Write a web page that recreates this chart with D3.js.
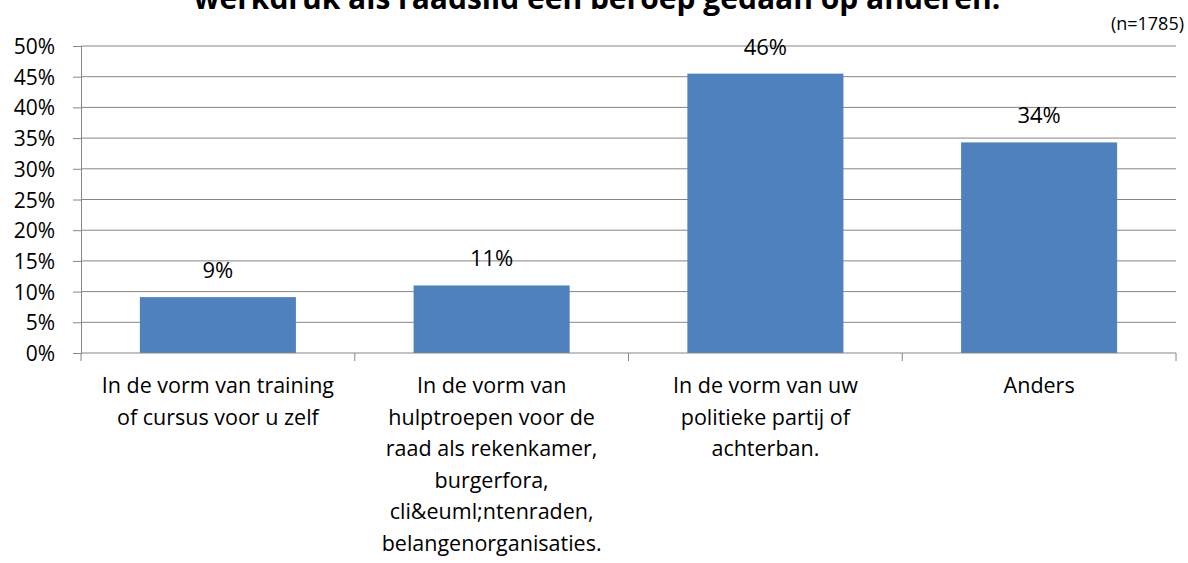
<!DOCTYPE html>
<html><head><meta charset="utf-8">
<script src="https://cdn.jsdelivr.net/npm/d3@7"></script>
<style>body{margin:0;background:#fff}svg{display:block}text{font-family:"Open Sans",sans-serif;fill:#000}</style>
</head><body>
<script>
const categories = [
  ["In de vorm van training","of cursus voor u zelf"],
  ["In de vorm van","hulptroepen voor de","raad als rekenkamer,","burgerfora,","cli&euml;ntenraden,","belangenorganisaties."],
  ["In de vorm van uw","politieke partij of","achterban."],
  ["Anders"]
];
const values = [9.1, 11.0, 45.5, 34.3];
const valueLabels = ["9%", "11%", "46%", "34%"];
const yTicks = [0,5,10,15,20,25,30,35,40,45,50];
const title = "werkdruk als raadslid een beroep gedaan op anderen.";
const note = "(n=1785)";

const W = 1188, H = 563;
const m = {left: 81, right: 12, top: 46, bottom: 210};
const FONT = "'Open Sans', sans-serif";
const svg = d3.select("body").append("svg").attr("width", W).attr("height", H);
const x = d3.scaleBand().domain(d3.range(categories.length)).range([m.left, W - m.right]).paddingInner(0.43).paddingOuter(0.215);
const xb = d3.scaleBand().domain(d3.range(categories.length)).range([m.left, W - m.right]);
const y = d3.scaleLinear().domain([0, 50]).range([H - m.bottom, m.top]);

// gridlines
svg.append("g").selectAll("line").data(yTicks.filter(d => d > 0)).join("line")
  .attr("x1", m.left).attr("x2", W - m.right)
  .attr("y1", d => y(d)).attr("y2", d => y(d))
  .attr("stroke", "#868686").attr("stroke-width", 1);

// y axis
const ya = svg.append("g").attr("transform", `translate(${m.left},0)`)
  .call(d3.axisLeft(y).tickValues(yTicks).tickFormat(d => d + "%").tickSize(8).tickPadding(18));
ya.select(".domain").attr("stroke", "#868686");
ya.selectAll(".tick line").attr("stroke", "#868686");
ya.selectAll("text").attr("font-size", 21).attr("font-family", FONT).attr("fill", "#000").attr("dy", "0.36em");

// bars
svg.append("g").selectAll("rect").data(values).join("rect")
  .attr("x", (d, i) => x(i)).attr("width", x.bandwidth())
  .attr("y", d => y(d)).attr("height", d => y(0) - y(d))
  .attr("fill", "#4F81BD");

// x axis
const xa = svg.append("g").attr("transform", `translate(0,${y(0)})`);
xa.append("line").attr("x1", m.left).attr("x2", W - m.right).attr("stroke", "#868686");
xa.selectAll("line.tk").data(d3.range(categories.length + 1)).join("line").attr("class", "tk")
  .attr("x1", i => m.left + i * xb.bandwidth()).attr("x2", i => m.left + i * xb.bandwidth())
  .attr("y1", 0).attr("y2", 8).attr("stroke", "#868686");

// category labels
const cl = svg.append("g").selectAll("text").data(categories).join("text")
  .attr("text-anchor", "middle").attr("font-size", 21.5)
  .attr("transform", (d, i) => `translate(${xb(i) + xb.bandwidth() / 2},${y(0) + 40})`);
cl.selectAll("tspan").data(d => d).join("tspan")
  .attr("x", 0).attr("y", (d, j) => j * 31.5).text(d => d);

// value labels
svg.append("g").selectAll("text").data(values).join("text")
  .attr("x", (d, i) => x(i) + x.bandwidth() / 2).attr("y", d => y(d) - 19)
  .attr("text-anchor", "middle").attr("font-size", 22).text((d, i) => valueLabels[i]);

// title
svg.append("text").attr("x", 597).attr("y", 9).attr("text-anchor", "middle")
  .attr("font-size", 30).attr("font-weight", "bold").text(title);
svg.append("text").attr("x", 1184).attr("y", 30).attr("text-anchor", "end")
  .attr("font-size", 18).text(note);
</script>
</body></html>
